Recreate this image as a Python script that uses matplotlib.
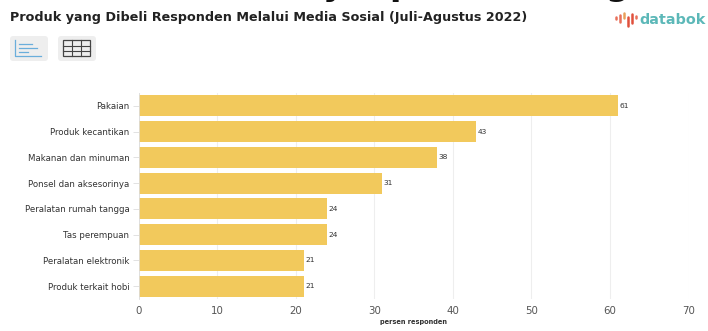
#!/usr/bin/env python
# -*- coding: utf-8 -*-

import matplotlib
matplotlib.use("Agg")
from matplotlib import pyplot as plt
from matplotlib.patches import FancyBboxPatch, Rectangle

categories = ["Pakaian", "Produk kecantikan", "Makanan dan minuman", "Ponsel dan aksesorinya",
              "Peralatan rumah tangga", "Tas perempuan", "Peralatan elektronik", "Produk terkait hobi"]
values = [61, 43, 38, 31, 24, 24, 21, 21]
x_ticks = [0, 10, 20, 30, 40, 50, 60, 70]

W, H = 708, 331
BAR_COLOR = "#f2c95c"
GRID_COLOR = "#eeeeee"

plt.rcParams["font.family"] = ["DejaVu Sans"]

fig = plt.figure(figsize=(W / 100, H / 100), dpi=100)


def px_axes(left, top, right, bottom):
    return fig.add_axes([left / W, 1 - bottom / H, (right - left) / W, (bottom - top) / H])


# Main bar chart
ax = px_axes(138.5, 93, 688.5, 299)
ax.barh(range(len(values)), values, height=0.82, color=BAR_COLOR, zorder=2)
ax.set_ylim(len(values) - 0.5, -0.5)
ax.set_xlim(0, 70)
ax.set_xticks(x_ticks)
ax.set_yticks(range(len(categories)))
ax.set_yticklabels(categories, fontsize=6.2, color="#333333")
ax.tick_params(axis="y", length=4, width=0.6, color="#dddddd", pad=2.5)
ax.tick_params(axis="x", length=0, labelsize=7.4, labelcolor="#555555", pad=5)
ax.grid(axis="x", color=GRID_COLOR, linewidth=0.8, zorder=1)
ax.set_axisbelow(True)
for side in ["top", "right", "bottom"]:
    ax.spines[side].set_visible(False)
ax.spines["left"].set_color("#dddddd")
ax.spines["left"].set_linewidth(0.6)
for i, v in enumerate(values):
    ax.text(v + 0.2, i, str(v), fontsize=5.4, va="center", ha="left", color="#333333", zorder=3)
ax.set_xlabel("persen responden", fontsize=4.8, fontweight="bold", color="#333333", labelpad=2)

# Header
fig.text(10 / W, 1 - 18 / H, "Produk yang Dibeli Responden Melalui Media Sosial (Juli-Agustus 2022)",
         fontsize=9.15, fontweight="bold", color="#222222", va="center")
fig.text(639.5 / W, 1 - 20 / H, "databok", fontsize=10.4, fontweight="bold", color="#5cb8b8",
         va="center", ha="left")

# Overlay in pixel coordinates for the buttons and logo
ov = fig.add_axes([0, 0, 1, 1], facecolor="none")
ov.set_xlim(0, W)
ov.set_ylim(H, 0)
ov.axis("off")

# Headline above the top edge, only its descenders stay on the canvas
for ch, x in (("y", 333), ("p", 401), ("g", 617)):
    ov.text(x, -5, ch, fontsize=24, fontweight="bold", color="#111111", ha="center", va="baseline")

for x0 in (10, 58):
    ov.add_patch(FancyBboxPatch((x0, 36), 38, 25, boxstyle="round,pad=0,rounding_size=3",
                                facecolor="#eeeeee", edgecolor="none"))

# chart button icon
ov.plot([15, 15, 41], [40, 56, 56], color="#6aaedb", lw=0.9)
for y, x1 in ((44, 32), (48, 37), (52, 28)):
    ov.plot([19, x1], [y, y], color="#6aaedb", lw=0.9)

# table button icon
ov.add_patch(Rectangle((63, 40), 27, 16, facecolor="none", edgecolor="#444444", lw=0.9))
for x in (72, 81):
    ov.plot([x, x], [40, 56], color="#444444", lw=0.8)
for y in (45.5, 50.5):
    ov.plot([63, 90], [y, y], color="#444444", lw=0.8)

# logo mark
for x, y0, y1, c in ((616, 17, 19, "#e8705a"), (620, 15, 22, "#e8705a"), (624, 13, 18, "#e8a05a"),
                     (628, 17, 26, "#e0503c"), (632, 14, 23, "#e0503c"), (636, 16, 18, "#e8705a")):
    ov.plot([x, x], [y0, y1], color=c, lw=1.8, solid_capstyle="round")

fig.savefig("out.png", dpi=100)
